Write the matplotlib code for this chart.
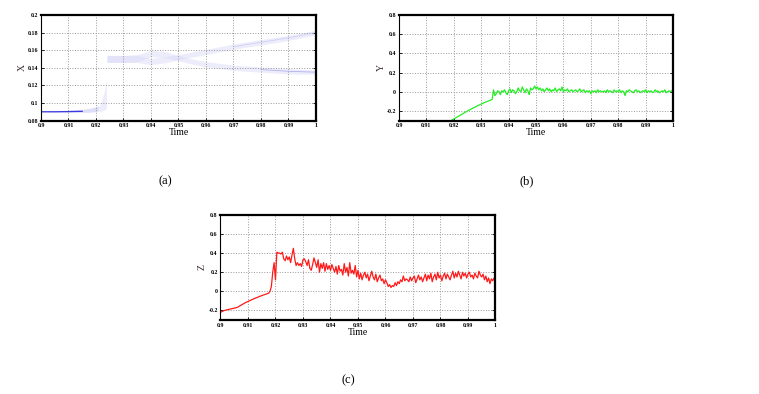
import numpy as np
import matplotlib.pyplot as plt

plt.rcParams['font.family'] = ['Liberation Serif', 'DejaVu Serif']

# ---- X : faint scatter bands (centres / half widths)
x_low_t = [0.900, 0.905, 0.910, 0.915, 0.918, 0.920, 0.921]
x_low_c = [0.090, 0.090, 0.0902, 0.0905, 0.091, 0.092, 0.093]
x_low_w = [0.0003, 0.0005, 0.0008, 0.0012, 0.0015, 0.0018, 0.002]
x_jump_t = [0.9212, 0.9222, 0.9232, 0.9238]
x_jump_lo = [0.090, 0.091, 0.092, 0.094]
x_jump_hi = [0.096, 0.104, 0.115, 0.126]
x_band_t = [0.924, 0.93, 0.935, 0.94, 0.945, 0.95, 0.955, 0.96, 0.97, 0.98, 0.99, 1.0]
x_up_c = [0.150, 0.150, 0.150, 0.147, 0.149, 0.152, 0.155, 0.158, 0.164, 0.169, 0.174, 0.180]
x_lo_c = [0.150, 0.150, 0.151, 0.156, 0.155, 0.151, 0.147, 0.144, 0.140, 0.138, 0.136, 0.135]
x_band_w = [0.004, 0.004, 0.004, 0.0035, 0.0035, 0.003, 0.003, 0.003, 0.003, 0.003, 0.003, 0.0025]

# ---- Y
y_ramp_t = [0.919, 0.922, 0.925, 0.928, 0.931, 0.934]
y_ramp = [-0.30, -0.25, -0.20, -0.155, -0.115, -0.08]
y_noise = [0.02, -0.04, -0.02, 0.01, 0.00, -0.03, 0.01, 0.00, 0.02, -0.01,
           -0.03, 0.01, 0.03, -0.01, 0.02, 0.01, -0.02, 0.00, 0.04, 0.01,
           0.00, 0.05, 0.02, -0.01, 0.03, 0.01, -0.03, 0.04, 0.02, 0.03,
           0.06, 0.03, 0.05, 0.02, 0.04, 0.01, 0.03, 0.00, 0.02, 0.04,
           0.01, 0.03, 0.00, 0.02, 0.01, 0.04, 0.00, 0.02, 0.03, 0.01,
           0.05, 0.00, 0.02, 0.01, 0.03, 0.00, 0.01, 0.02, 0.00, 0.01,
           0.02, 0.00, 0.01, 0.03, 0.00, 0.01, 0.02, -0.01, 0.01, 0.00,
           0.01, -0.02, 0.01, 0.00, 0.01, -0.01, 0.02, 0.00, 0.01, 0.00,
           0.00, 0.01, -0.01, 0.02, 0.00, 0.01, 0.00, -0.01, 0.02, 0.00,
           0.01, 0.00, 0.02, -0.01, 0.01, 0.00, -0.04, 0.01, 0.00, 0.02,
           0.01, 0.00, -0.01, 0.01, 0.02, 0.00, 0.01, -0.01, 0.00, 0.01,
           0.00, 0.02, -0.01, 0.01, 0.00, 0.01, -0.01, 0.00, 0.02, 0.00,
           0.01, -0.01, 0.00, 0.01, 0.00, 0.02, -0.01, 0.00, 0.01, 0.00,
           0.01, 0.00]

# ---- Z
z_ramp_t = [0.9, 0.9015, 0.903, 0.9045, 0.906, 0.909, 0.912, 0.915, 0.9175,
            0.918, 0.9185, 0.919, 0.9195, 0.92]
z_ramp = [-0.22, -0.20, -0.19, -0.18, -0.17, -0.12, -0.08, -0.045, -0.02,
          0.00, 0.05, 0.20, 0.30, 0.12]
z_noise = [0.41, 0.40, 0.40, 0.39, 0.41, 0.34, 0.32, 0.37, 0.33, 0.36,
           0.30, 0.38, 0.45, 0.34, 0.27, 0.30, 0.27, 0.29, 0.26, 0.33,
           0.34, 0.31, 0.27, 0.33, 0.24, 0.22, 0.28, 0.35, 0.30, 0.25,
           0.33, 0.20, 0.29, 0.24, 0.30, 0.21, 0.29, 0.23, 0.27, 0.22,
           0.28, 0.24, 0.20, 0.26, 0.18, 0.27, 0.21, 0.23, 0.17, 0.29,
           0.20, 0.25, 0.16, 0.30, 0.19, 0.22, 0.18, 0.27, 0.15, 0.22,
           0.13, 0.19, 0.12, 0.17, 0.20, 0.14, 0.18, 0.11, 0.16, 0.21,
           0.15, 0.12, 0.18, 0.10, 0.14, 0.17, 0.11, 0.13, 0.08, 0.12,
           0.09, 0.05, 0.07, 0.04, 0.06, 0.05, 0.09, 0.06, 0.10, 0.08,
           0.12, 0.10, 0.16, 0.11, 0.13, 0.12, 0.10, 0.15, 0.11, 0.14,
           0.16, 0.09, 0.13, 0.17, 0.12, 0.15, 0.10, 0.14, 0.18, 0.11,
           0.17, 0.13, 0.19, 0.10, 0.15, 0.18, 0.12, 0.20, 0.14, 0.17,
           0.11, 0.16, 0.19, 0.13, 0.18, 0.15, 0.12, 0.17, 0.21, 0.14,
           0.19, 0.15, 0.21, 0.17, 0.13, 0.20, 0.16, 0.19, 0.14, 0.18,
           0.20, 0.15, 0.17, 0.13, 0.19, 0.16, 0.14, 0.21, 0.17, 0.15,
           0.18, 0.12, 0.16, 0.10, 0.14, 0.08, 0.13, 0.11, 0.14, 0.12]

xticks = [0.9, 0.91, 0.92, 0.93, 0.94, 0.95, 0.96, 0.97, 0.98, 0.99, 1.0]
xticklabels = ['0.9', '0.91', '0.92', '0.93', '0.94', '0.95', '0.96', '0.97', '0.98', '0.99', '1']
x_yticks = [0.08, 0.1, 0.12, 0.14, 0.16, 0.18, 0.2]
x_yticklabels = ['0.08', '0.1', '0.12', '0.14', '0.16', '0.18', '0.2']
yz_yticks = [-0.2, 0, 0.2, 0.4, 0.6, 0.8]
yz_yticklabels = ['-0.2', '0', '0.2', '0.4', '0.6', '0.8']


def style(ax, ylabel, yticks, yticklabels):
    ax.set_xlim(0.9, 1.0)
    ax.set_xticks(xticks)
    ax.set_xticklabels(xticklabels)
    ax.set_yticks(yticks)
    ax.set_yticklabels(yticklabels)
    ax.grid(True, linestyle=':', color='#999999', linewidth=0.7)
    ax.tick_params(direction='in', length=2, width=0.6, labelsize=4.2,
                   right=True, pad=2)
    for lab in ax.get_xticklabels() + ax.get_yticklabels():
        lab.set_fontweight('bold')
    for s in ['top', 'bottom', 'right']:
        ax.spines[s].set_linewidth(1.6)
    ax.spines['left'].set_linewidth(0.8)
    ax.set_xlabel('Time', fontsize=7, labelpad=0)
    ax.set_ylabel(ylabel, fontsize=7, labelpad=1, color='#3a2a2a')


fig = plt.figure(figsize=(7.59, 3.94), dpi=100)
axa = fig.add_axes([0.054, 0.694, 0.3623, 0.268])
axb = fig.add_axes([0.5257, 0.694, 0.361, 0.268])
axc = fig.add_axes([0.2905, 0.188, 0.3623, 0.2665])

# (a)
lc = np.array(x_low_c)
lw = np.array(x_low_w)
axa.fill_between(x_low_t, lc - lw, lc + lw * 2, color='#c8c8f5', alpha=0.6, lw=0)
axa.plot(x_low_t[:4], x_low_c[:4], color='#3a3ae0', lw=0.9)
axa.fill_between(x_jump_t, x_jump_lo, x_jump_hi, color='#e0e0fa', alpha=0.6, lw=0)
bw = np.array(x_band_w)
uc = np.array(x_up_c)
lo = np.array(x_lo_c)
axa.fill_between(x_band_t, uc - bw, uc + bw, color='#d6d6f8', alpha=0.45, lw=0)
axa.fill_between(x_band_t, lo - bw, lo + bw, color='#d6d6f8', alpha=0.45, lw=0)
axa.plot(x_band_t[-3:], x_lo_c[-3:], color='#9a9af0', lw=0.6, alpha=0.7)
axa.plot(x_band_t[-4:], x_up_c[-4:], color='#b4b4f4', lw=0.5, alpha=0.6)
axa.set_ylim(0.08, 0.2)
style(axa, 'X', x_yticks, x_yticklabels)

# (b)
y_t = np.concatenate([y_ramp_t, 0.9345 + 0.0005 * np.arange(len(y_noise))])
y_v = np.concatenate([y_ramp, y_noise])
axb.plot(y_t, y_v, color='#22ee22', lw=0.9)
axb.set_ylim(-0.3, 0.8)
style(axb, 'Y', yz_yticks, yz_yticklabels)

# (c)
z_t = np.concatenate([z_ramp_t, 0.9205 + 0.0005 * np.arange(len(z_noise))])
z_v = np.concatenate([z_ramp, z_noise])
axc.plot(z_t, z_v, color='#ff1a1a', lw=0.9)
axc.set_ylim(-0.3, 0.8)
style(axc, 'Z', yz_yticks, yz_yticklabels)

fig.text(165 / 759, 1 - 181 / 394, '(a)', fontsize=9, ha='center', va='center')
fig.text(527 / 759, 1 - 181 / 394, '(b)', fontsize=9, ha='center', va='center')
fig.text(348 / 759, 1 - 380 / 394, '(c)', fontsize=9, ha='center', va='center')

fig.savefig('out.png', dpi=100)
